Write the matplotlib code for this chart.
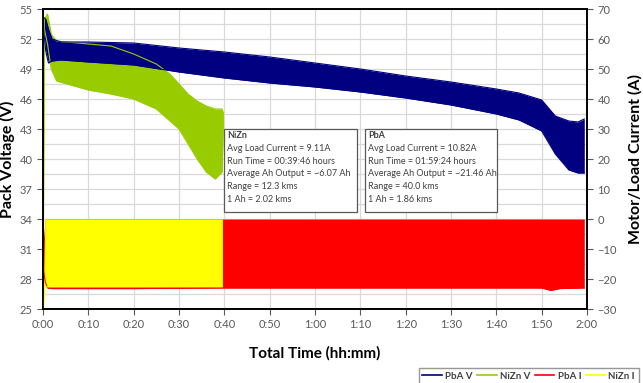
import numpy as np
import matplotlib.pyplot as plt
from matplotlib.patches import Rectangle
from matplotlib.ticker import MultipleLocator, FixedLocator, FuncFormatter

plt.rcParams['font.family'] = ['Lato', 'DejaVu Sans']

# time in minutes (band envelopes of the noisy traces)
pba_v_t = [0, 0.6, 1.2, 2, 4, 10, 20, 30, 40, 50, 60, 70, 80, 90, 100, 105, 110, 113, 116, 118, 119.4]
pba_v_hi = [54.2, 54.0, 53.0, 52.0, 51.7, 51.7, 51.6, 51.1, 50.7, 50.2, 49.6, 49.0, 48.3, 47.7, 47.0,
            46.6, 45.9, 44.3, 43.8, 43.7, 44.0]
pba_v_lo = [53.6, 50.8, 49.6, 49.8, 49.9, 49.7, 49.4, 48.7, 48.1, 47.6, 47.2, 46.7, 46.1, 45.4, 44.5,
            43.9, 42.8, 40.5, 38.9, 38.6, 38.6]

nizn_v_t = [0, 0.3, 1.0, 1.8, 3, 10, 15, 20, 25, 28, 30, 32, 34, 36, 38, 39.5, 39.8]
nizn_v_hi = [24.0, 54.0, 54.5, 52.5, 51.8, 51.5, 51.3, 50.5, 49.5, 48.5, 47.5, 46.5, 45.8, 45.3, 45.0,
             45.0, 44.6]
nizn_v_lo = [24.0, 53.0, 51.5, 49.0, 47.8, 46.9, 46.5, 46.0, 45.0, 43.8, 43.0, 41.5, 40.0, 38.7, 38.0,
             38.7, 44.0]

pba_i_t = [0, 0.5, 1, 2, 20, 40, 60, 80, 100, 110, 112, 114, 119.4]
pba_i_hi = [-8, 0, 0, 0, 0, 0, 0, 0, 0, 0, 0, 0, 0]
pba_i_lo = [-16, -21, -23, -23.2, -23.2, -23.0, -23.0, -23.0, -23.0, -23.0, -23.8, -23.2, -23.0]

nizn_i_t = [0, 0.4, 1, 10, 20, 30, 39.6]
nizn_i_hi = [-31, 0, 0, 0, 0, 0, 0]
nizn_i_lo = [-31, -22.6, -22.6, -22.6, -22.6, -22.6, -22.6]

nizn_notes = ['NiZn', 'Avg Load Current = 9.11A', 'Run Time = 00:39:46 hours',
              'Average Ah Output = ~6.07 Ah', 'Range = 12.3 kms', '1 Ah = 2.02 kms']
pba_notes = ['PbA', 'Avg Load Current = 10.82A', 'Run Time = 01:59:24 hours',
             'Average Ah Output = ~21.46 Ah', 'Range = 40.0 kms', '1 Ah = 1.86 kms']

NAVY = '#000080'
GREEN = '#99cc00'
RED = '#ff0000'
YELLOW = '#ffff00'
GREY = '#595959'

fig = plt.figure(figsize=(6.43, 3.83), dpi=100)
ax = fig.add_axes([43 / 643, 1 - 309 / 383, 544 / 643, 300 / 383])
ax2 = ax.twinx()

ax.fill_between(nizn_v_t, nizn_v_lo, nizn_v_hi, color=GREEN, lw=0)
ax.plot(nizn_v_t, nizn_v_hi, color=GREEN, lw=0.8)
ax.plot(nizn_v_t, nizn_v_lo, color=GREEN, lw=0.8)
ax.fill_between(pba_v_t, pba_v_lo, pba_v_hi, color=NAVY, lw=0)
ax.plot(pba_v_t, pba_v_hi, color=NAVY, lw=0.8)
ax.plot(pba_v_t, pba_v_lo, color=NAVY, lw=0.8)

ax2.fill_between(pba_i_t, pba_i_lo, pba_i_hi, color=RED, lw=0)
ax2.plot(pba_i_t, pba_i_lo, color=RED, lw=0.8)
ax2.fill_between(nizn_i_t, nizn_i_lo, nizn_i_hi, color=YELLOW, lw=0)
ax2.plot(nizn_i_t, nizn_i_lo, color=YELLOW, lw=0.8)

ax.set_xlim(0, 120)
ax.set_ylim(25, 55)
ax2.set_ylim(-30, 70)
ax.xaxis.set_major_locator(MultipleLocator(10))
ax.xaxis.set_major_formatter(FuncFormatter(lambda v, p: '%d:%02d' % (v // 60, v % 60)))
ax.yaxis.set_major_locator(FixedLocator(np.arange(25, 56, 3)))
ax.yaxis.set_minor_locator(FixedLocator(np.arange(25, 55.1, 1.5)))
ax2.yaxis.set_major_locator(MultipleLocator(10))

ax.grid(True, which='both', color='#d9d9d9', lw=0.9)
ax.grid(False, which='minor', axis='x')
ax.set_axisbelow(True)
ax.tick_params(which='minor', length=0)
for a in (ax, ax2):
    a.tick_params(which='major', labelsize=8, labelcolor=GREY, color=GREY, length=4, width=0.8)
    for s in a.spines.values():
        s.set_color('black')
        s.set_linewidth(1.2)

ax.set_ylabel('Pack Voltage (V)', fontsize=11.5, fontweight='bold', labelpad=3)
ax2.set_ylabel('Motor/Load Current (A)', fontsize=11.5, fontweight='bold', labelpad=8)
ax.set_xlabel('Total Time (hh:mm)', fontsize=11, fontweight='bold', labelpad=11)

# annotation boxes
for x0, x1, notes in [(0.333, 0.577, nizn_notes), (0.592, 0.835, pba_notes)]:
    ax2.add_patch(Rectangle((x0, 0.323), x1 - x0, 0.277, transform=ax2.transAxes,
                            facecolor='white', edgecolor='#595959', lw=0.9, zorder=5))
    for k, line in enumerate(notes):
        ax2.text(x0 + 0.006, 0.578 - k * 0.0425, line, transform=ax2.transAxes, fontsize=6.5,
                 color='#404040', va='center', zorder=6,
                 fontweight='bold' if k == 0 else 'normal')

handles = [plt.Line2D([], [], color=c, lw=1.2) for c in (NAVY, GREEN, RED, YELLOW)]
leg = fig.legend(handles, ['PbA V', 'NiZn V', 'PbA I', 'NiZn I'], ncol=4, loc='lower right',
                 bbox_to_anchor=(0.998, -0.012), fontsize=7, frameon=True, fancybox=False,
                 handlelength=2.0, handletextpad=0.35, columnspacing=0.45, borderpad=0.4,
                 borderaxespad=0.3)
leg.get_frame().set_edgecolor('#7f7f7f')
for t in leg.get_texts():
    t.set_fontweight('bold')
    t.set_color('#404040')

fig.savefig('out.png', dpi=100)
